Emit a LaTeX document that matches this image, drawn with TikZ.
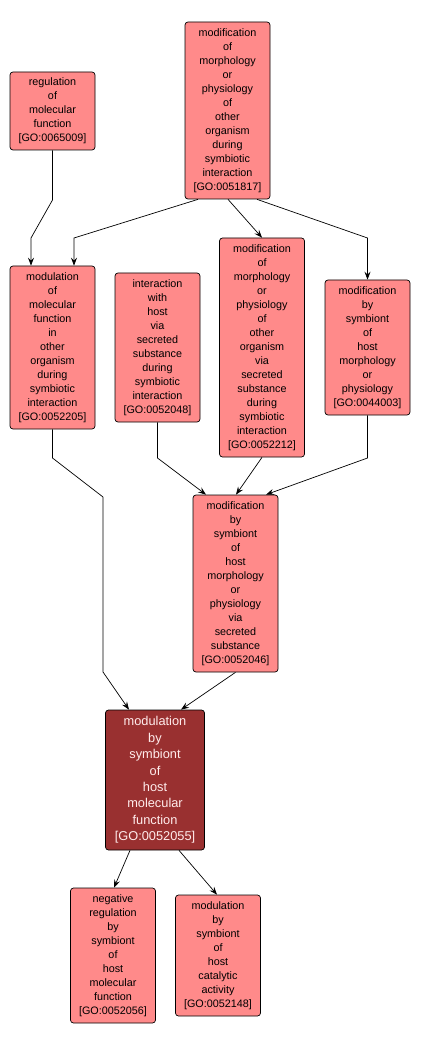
\documentclass[tikz,border=0pt]{standalone}
\usepackage{fontspec}
\setmainfont{Liberation Sans}
\usetikzlibrary{arrows.meta}
\definecolor{termfill}{RGB}{255,138,138}
\definecolor{focusfill}{RGB}{153,48,48}
\definecolor{focustext}{RGB}{255,236,236}

\begin{document}
\begin{tikzpicture}[x=1pt,y=-1pt,>={Stealth[length=8pt,width=6pt,inset=3pt]},
 term/.style={draw,line width=0.7pt,rounded corners=3pt,fill=termfill,align=center,
  inner sep=0pt,minimum width=85pt,font=\fontsize{10.8}{14}\selectfont},
 focus/.style={term,fill=focusfill,text=focustext,minimum width=99pt,
  font=\fontsize{12.8}{16.4}\selectfont},
 edge/.style={->,line width=0.7pt}]
\useasboundingbox (0,0) rectangle (421,1048);
% top row
\node[term,minimum height=78pt] (rmf) at (52.5,111) {regulation\\of\\molecular\\function\\{[GO:0065009]}};
\node[term,minimum height=177pt] (momp) at (227.5,110.5) {modification\\of\\morphology\\or\\physiology\\of\\other\\organism\\during\\symbiotic\\interaction\\{[GO:0051817]}};
% second row
\node[term,minimum height=163pt] (mmf) at (52.5,347.5) {modulation\\of\\molecular\\function\\in\\other\\organism\\during\\symbiotic\\interaction\\{[GO:0052205]}};
\node[term,minimum height=149pt] (ihss) at (157.5,347.5) {interaction\\with\\host\\via\\secreted\\substance\\during\\symbiotic\\interaction\\{[GO:0052048]}};
\node[term,minimum height=219pt] (mompss) at (262,347.5) {modification\\of\\morphology\\or\\physiology\\of\\other\\organism\\via\\secreted\\substance\\during\\symbiotic\\interaction\\{[GO:0052212]}};
\node[term,minimum height=135pt] (mbs) at (367.5,347.5) {modification\\by\\symbiont\\of\\host\\morphology\\or\\physiology\\{[GO:0044003]}};
% third row
\node[term,minimum height=177pt] (mbsss) at (235.5,583.5) {modification\\by\\symbiont\\of\\host\\morphology\\or\\physiology\\via\\secreted\\substance\\{[GO:0052046]}};
\node[focus,minimum height=140pt] (hmf) at (155,780) {modulation\\by\\symbiont\\of\\host\\molecular\\function\\{[GO:0052055]}};
% bottom row
\node[term,minimum height=135pt] (neg) at (113,955.5) {negative\\regulation\\by\\symbiont\\of\\host\\molecular\\function\\{[GO:0052056]}};
\node[term,minimum height=121pt] (cat) at (218,955.5) {modulation\\by\\symbiont\\of\\host\\catalytic\\activity\\{[GO:0052148]}};
% edges
\draw[edge] (rmf.south) -- (52.5,200) -- (31,238) -- (31,0 |- mmf.north);
\draw[edge] (198,0 |- momp.south) -- (74,238) -- (74,0 |- mmf.north);
\draw[edge] (228,0 |- momp.south) -- (mompss.north);
\draw[edge] (257,0 |- momp.south) -- (367.5,238) -- (mbs.north);
\draw[edge] (mmf.south) -- (52.5,458) -- (103,497) -- (103,672) -- (129,0 |- hmf.north);
\draw[edge] (ihss.south) -- (157.5,458) -- (206,0 |- mbsss.north);
\draw[edge] (mompss.south) -- (236,0 |- mbsss.north);
\draw[edge] (mbs.south) -- (367.5,458) -- (266,0 |- mbsss.north);
\draw[edge] (mbsss.south) -- (181,0 |- hmf.north);
\draw[edge] (130,0 |- hmf.south) -- (114,0 |- neg.north);
\draw[edge] (179,0 |- hmf.south) -- (217,0 |- cat.north);
\end{tikzpicture}
\end{document}
